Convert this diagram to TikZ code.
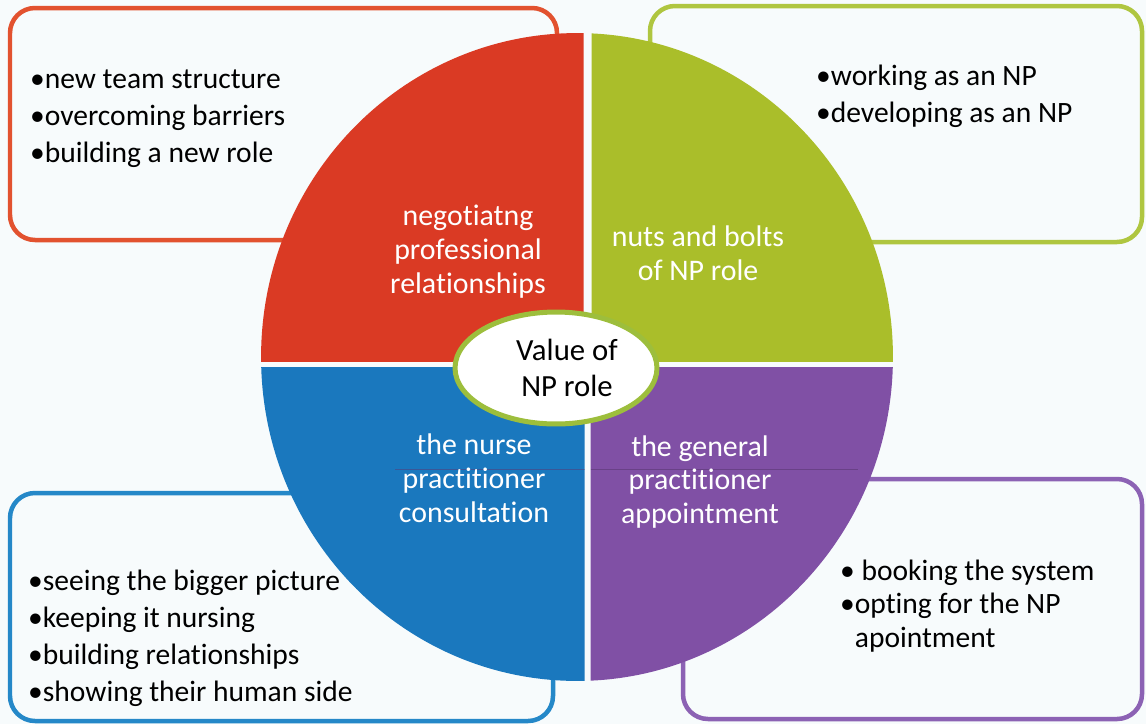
\documentclass[tikz,border=0pt]{standalone}
\usepackage{fontspec}
\setmainfont{Carlito}[Ligatures=NoCommon]
\usetikzlibrary{math}

\definecolor{paper}{HTML}{F7FBFC}
\definecolor{redq}{HTML}{DA3A24}
\definecolor{greenq}{HTML}{AABE2A}
\definecolor{blueq}{HTML}{1A78BE}
\definecolor{purpleq}{HTML}{8050A5}
\definecolor{redline}{HTML}{E2522F}
\definecolor{greenline}{HTML}{AFC640}
\definecolor{blueline}{HTML}{2588C8}
\definecolor{purpleline}{HTML}{8C62B4}
\definecolor{ringline}{HTML}{9DBE3C}

\tikzset{
  listbox/.style={line width=0.09cm, rounded corners=0.5cm, fill=paper},
  quadtext/.style={text=white, align=center, font=\fontsize{17}{19.3}\selectfont},
  listtext/.style={anchor=west, align=left, font=\fontsize{16.8}{21}\selectfont}
}

\begin{document}
\begin{tikzpicture}[x=0.02cm, y=-0.02cm]

    \tikzmath{\gx = 587.5; \gy = 364;};
    \useasboundingbox (0,0) rectangle (1146,724);
    \fill[paper] (0,0) rectangle (1146,724);

    % the four boxes behind the circle
    \draw[listbox, draw=redline] (10,8) rectangle (557,240);
    \draw[listbox, draw=greenline] (650,6) rectangle (1142,242);
    \draw[listbox, draw=blueline] (10,493) rectangle (553,721);
    \draw[listbox, draw=purpleline] (683,479) rectangle (1142,719);

    % quarters of the circle
    \begin{scope}
        \clip (0,0) rectangle (\gx-4,\gy-3);
        \fill[redq] (577,357) ellipse [x radius=6.32cm, y radius=6.48cm];
    \end{scope}
    \begin{scope}
        \clip (\gx+4,0) rectangle (1146,\gy-3);
        \fill[greenq] (577,357) ellipse [x radius=6.32cm, y radius=6.48cm];
    \end{scope}
    \begin{scope}
        \clip (0,\gy+3) rectangle (\gx-3,724);
        \fill[blueq] (577,357) ellipse [x radius=6.32cm, y radius=6.48cm];
        \draw[purpleq!70!black, opacity=.5, line width=.5pt] (395,469) -- (\gx-3,469);
    \end{scope}
    \begin{scope}
        \clip (\gx+3,\gy+3) rectangle (1146,724);
        \fill[purpleq] (577,357) ellipse [x radius=6.32cm, y radius=6.48cm];
        \draw[purpleq!70!black, opacity=.6, line width=.5pt] (\gx+3,469) -- (858,469);
    \end{scope}

    \draw[ringline, line width=0.1cm, fill=white] (556,368) ellipse [x radius=2.02cm, y radius=1.12cm];
    \node[align=center, font=\fontsize{17.5}{20.5}\selectfont] (value) at (567,368) {Value of\\NP role};

    \node[quadtext] (negot) at (468,252) {negotiatng\\professional\\relationships};
    \node[quadtext] (nuts) at (698,253) {nuts and bolts\\of NP role};
    \node[quadtext] (nurse) at (474,478) {the nurse\\practitioner\\consultation};
    \node[quadtext] (gp) at (700,482) {the general\\practitioner\\appointment};

    \node[listtext] (teamlist) at (24,119) {•new team structure\\•overcoming barriers\\•building a new role};
    \node[listtext] (boltslist) at (810,96) {•working as an NP\\•developing as an NP};
    \node[listtext] (nurselist) at (22,638) {•seeing the bigger picture\\•keeping it nursing\\•building relationships\\•showing their human side};
    \node[listtext, font=\fontsize{16.8}{19}\selectfont] (gplist) at (834,606) {• booking the system\\•opting for the NP\\\phantom{•}apointment};

\end{tikzpicture}
\end{document}
